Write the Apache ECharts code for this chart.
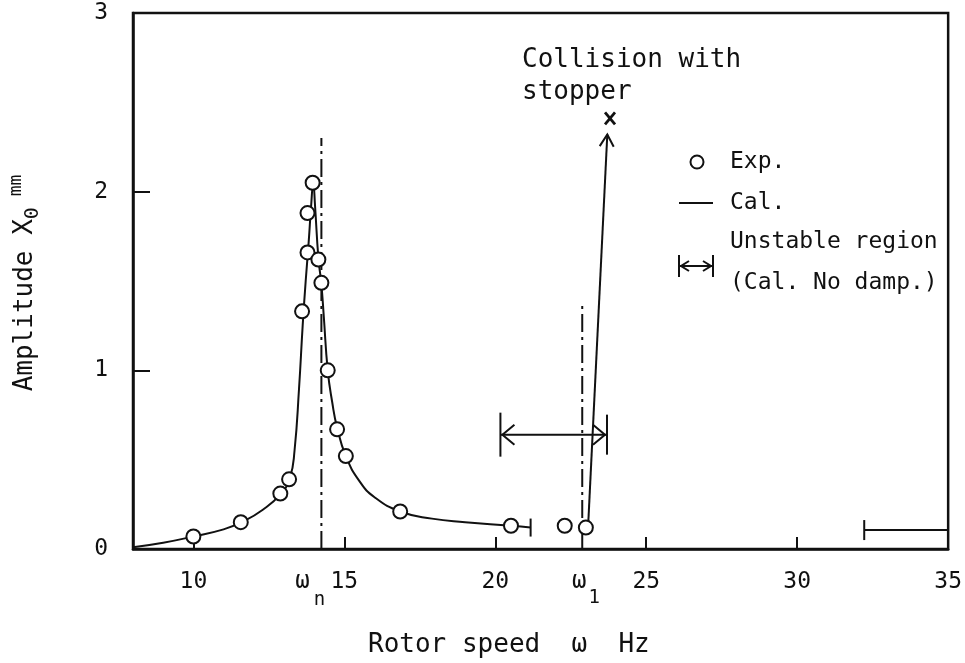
<!DOCTYPE html>
<html><head><meta charset="utf-8">
<script src="https://cdn.jsdelivr.net/npm/echarts@6/dist/echarts.min.js"></script>
<style>html,body{margin:0;padding:0;background:#fff}#c{width:965px;height:663px}</style>
</head><body><div id="c"></div>
<script>
// ---- data ----
const xTicks = [10, 15, 20, 25, 30, 35];
const yTicks = [0, 1, 2, 3];
const expX = [10.0, 11.57, 12.88, 13.17, 13.6, 13.78, 13.78, 13.95, 14.14, 14.24, 14.45, 14.76, 15.05, 16.85, 20.52, 22.3, 23.0];
const expY = [0.07, 0.15, 0.31, 0.39, 1.33, 1.66, 1.88, 2.05, 1.62, 1.49, 1.0, 0.67, 0.52, 0.21, 0.13, 0.13, 0.12];
const calX = [8.0, 9.0, 10.0, 11.0, 11.6, 12.3, 12.9, 13.2, 13.35, 13.5, 13.62, 13.72, 13.82, 13.9, 13.97, 14.03, 14.14, 14.24, 14.32, 14.45, 14.6, 14.76, 15.05, 15.5, 16.0, 16.85, 17.9, 19.0, 20.52, 21.17];
const calY = [0.01, 0.035, 0.07, 0.11, 0.15, 0.22, 0.31, 0.40, 0.55, 0.90, 1.25, 1.50, 1.72, 1.92, 2.05, 1.92, 1.63, 1.48, 1.30, 1.00, 0.82, 0.68, 0.52, 0.38, 0.29, 0.21, 0.17, 0.15, 0.13, 0.12];
const omegaN = 14.24, omegaNTop = 2.30;
const omega1 = 22.88, omega1Top = 1.37;
const unstableRegion = [20.17, 23.70], unstableLevel = 0.64;
const collisionFrom = [23.08, 0.146], collisionTo = [23.71, 2.32], collisionMark = [23.80, 2.41];
const calEnd = [21.17, 0.12];
const rightBand = [32.22, 35], rightBandLevel = 0.106;

const INK = '#111';
const FONT = '"DejaVu Sans Mono", "Liberation Mono", monospace';
const chart = echarts.init(document.getElementById('c'));

function dashLine(x, top) { return [[x, 0], [x, top]]; }

const option = {
  backgroundColor: '#fff',
  animation: false,
  grid: { left: 133, right: 13, top: 13, bottom: 114, show: true, borderColor: INK, borderWidth: 2.5 },
  xAxis: {
    type: 'value', min: 8, max: 35,
    axisLine: { lineStyle: { color: INK, width: 2.5 } },
    axisTick: { show: true, inside: true, length: 12, lineStyle: { color: INK, width: 2 }, customValues: xTicks },
    axisLabel: { customValues: xTicks, color: INK, fontFamily: FONT, fontSize: 23, margin: 22 },
    splitLine: { show: false }
  },
  yAxis: {
    type: 'value', min: 0, max: 3,
    axisLine: { show: true, lineStyle: { color: INK, width: 2.5 } },
    axisTick: { show: true, inside: true, length: 17, lineStyle: { color: INK, width: 2 }, customValues: yTicks },
    axisLabel: { customValues: yTicks, color: INK, fontFamily: FONT, fontSize: 23, margin: 25 },
    splitLine: { show: false }
  },
  series: [
    { name: 'Cal.', type: 'line', data: calX.map((x, i) => [x, calY[i]]), smooth: 0.5,
      symbol: 'none', lineStyle: { color: INK, width: 2 }, z: 2 },
    { name: 'omegaN', type: 'line', data: dashLine(omegaN, omegaNTop), symbol: 'none',
      lineStyle: { color: INK, width: 2, type: [18, 5, 3, 5] }, z: 1 },
    { name: 'omega1', type: 'line', data: dashLine(omega1, omega1Top), symbol: 'none',
      lineStyle: { color: INK, width: 2, type: [18, 5, 3, 5] }, z: 1 },
    { name: 'Exp.', type: 'scatter', data: expX.map((x, i) => [x, expY[i]]), symbol: 'circle', symbolSize: 14,
      itemStyle: { color: '#fff', borderColor: INK, borderWidth: 2, opacity: 1 }, z: 5 },
    { name: 'marks', type: 'custom', z: 4, clip: false,
      data: [[0]],
      renderItem: function (params, api) {
        const st = { stroke: INK, lineWidth: 2, fill: null };
        const a = api.coord([unstableRegion[0], unstableLevel]);
        const b = api.coord([unstableRegion[1], unstableLevel]);
        const c0 = api.coord(collisionFrom), c1 = api.coord(collisionTo);
        const cm = api.coord(collisionMark);
        const ce = api.coord(calEnd);
        const r0 = api.coord([rightBand[0], rightBandLevel]), r1 = api.coord([rightBand[1], rightBandLevel]);
        const dx = c1[0] - c0[0], dy = c1[1] - c0[1], L = Math.hypot(dx, dy);
        const ux = dx / L, uy = dy / L, px = -uy, py = ux;
        const hl = 12, hw = 7;
        const ch = [[c1[0] - ux * hl + px * hw, c1[1] - uy * hl + py * hw], [c1[0], c1[1]], [c1[0] - ux * hl - px * hw, c1[1] - uy * hl - py * hw]];
        return { type: 'group', children: [
          { type: 'line', shape: { x1: a[0], y1: a[1], x2: b[0], y2: b[1] }, style: st },
          { type: 'line', shape: { x1: a[0], y1: a[1] - 22, x2: a[0], y2: a[1] + 22 }, style: st },
          { type: 'line', shape: { x1: b[0], y1: b[1] - 20, x2: b[0], y2: b[1] + 20 }, style: st },
          { type: 'polyline', shape: { points: [[a[0] + 14, a[1] - 10], [a[0] + 2, a[1]], [a[0] + 14, a[1] + 10]] }, style: st },
          { type: 'polyline', shape: { points: [[b[0] - 14, b[1] - 10], [b[0] - 2, b[1]], [b[0] - 14, b[1] + 10]] }, style: st },
          { type: 'line', shape: { x1: c0[0], y1: c0[1], x2: c1[0], y2: c1[1] }, style: st },
          { type: 'polyline', shape: { points: ch }, style: st },
          { type: 'line', shape: { x1: cm[0] - 5, y1: cm[1] - 6, x2: cm[0] + 5, y2: cm[1] + 6 }, style: { stroke: INK, lineWidth: 2.8 } },
          { type: 'line', shape: { x1: cm[0] + 5, y1: cm[1] - 6, x2: cm[0] - 5, y2: cm[1] + 6 }, style: { stroke: INK, lineWidth: 2.8 } },
          { type: 'line', shape: { x1: ce[0], y1: ce[1] - 9, x2: ce[0], y2: ce[1] + 9 }, style: st },
          { type: 'line', shape: { x1: r0[0], y1: r0[1], x2: r1[0], y2: r1[1] }, style: st },
          { type: 'line', shape: { x1: r0[0], y1: r0[1] - 10, x2: r0[0], y2: r0[1] + 10 }, style: st }
        ]};
      }
    }
  ]
};
chart.setOption(option);

// ---- annotations (text + legend) ----
const pN = chart.convertToPixel({ gridIndex: 0 }, [omegaN, 0]);
const p1 = chart.convertToPixel({ gridIndex: 0 }, [omega1, 0]);
const txt = (x, y, text, size, align, extra) => Object.assign({ type: 'text', x: x, y: y, z: 10,
  style: { text: text, fill: INK, font: size + 'px ' + FONT, align: align || 'left', verticalAlign: 'middle' } }, extra || {});
const st = { stroke: INK, lineWidth: 2, fill: null };
chart.setOption({
  graphic: [
    txt(pN[0] - 19, 582, 'ω', 24, 'center'),
    txt(pN[0] - 2, 600, 'n', 19, 'center'),
    txt(p1[0] - 3, 582, 'ω', 24, 'center'),
    txt(p1[0] + 12, 598, '1', 19, 'center'),
    txt(368, 645, 'Rotor speed  ω  Hz', 26, 'left'),
    { type: 'text', x: 25, y: 283, rotation: Math.PI / 2, z: 10,
      style: { text: '{a|Amplitude X}{s|0}{u| mm}', align: 'center', verticalAlign: 'middle', fill: INK,
        rich: { a: { font: '26px ' + FONT, fill: INK, lineHeight: 36, verticalAlign: 'middle' },
                s: { font: '20px ' + FONT, fill: INK, lineHeight: 36, verticalAlign: 'bottom' },
                u: { font: '18px ' + FONT, fill: INK, lineHeight: 36, verticalAlign: 'top' } } } },
    txt(522, 60, 'Collision with', 26, 'left'),
    txt(522, 92, 'stopper', 26, 'left'),
    // legend
    { type: 'circle', shape: { cx: 697, cy: 162, r: 6.5 }, style: { stroke: INK, lineWidth: 2, fill: '#fff' }, z: 10 },
    txt(730, 162, 'Exp.', 23),
    { type: 'line', shape: { x1: 679, y1: 203, x2: 713, y2: 203 }, style: st, z: 10 },
    txt(730, 203, 'Cal.', 23),
    { type: 'line', shape: { x1: 679, y1: 255, x2: 679, y2: 277 }, style: st, z: 10 },
    { type: 'line', shape: { x1: 713, y1: 255, x2: 713, y2: 277 }, style: st, z: 10 },
    { type: 'line', shape: { x1: 680, y1: 266, x2: 712, y2: 266 }, style: st, z: 10 },
    { type: 'polyline', shape: { points: [[689, 261], [681, 266], [689, 271]] }, style: st, z: 10 },
    { type: 'polyline', shape: { points: [[703, 261], [711, 266], [703, 271]] }, style: st, z: 10 },
    txt(730, 242, 'Unstable region', 23),
    txt(730, 283, '(Cal. No damp.)', 23)
  ]
});
</script>
</body></html>
